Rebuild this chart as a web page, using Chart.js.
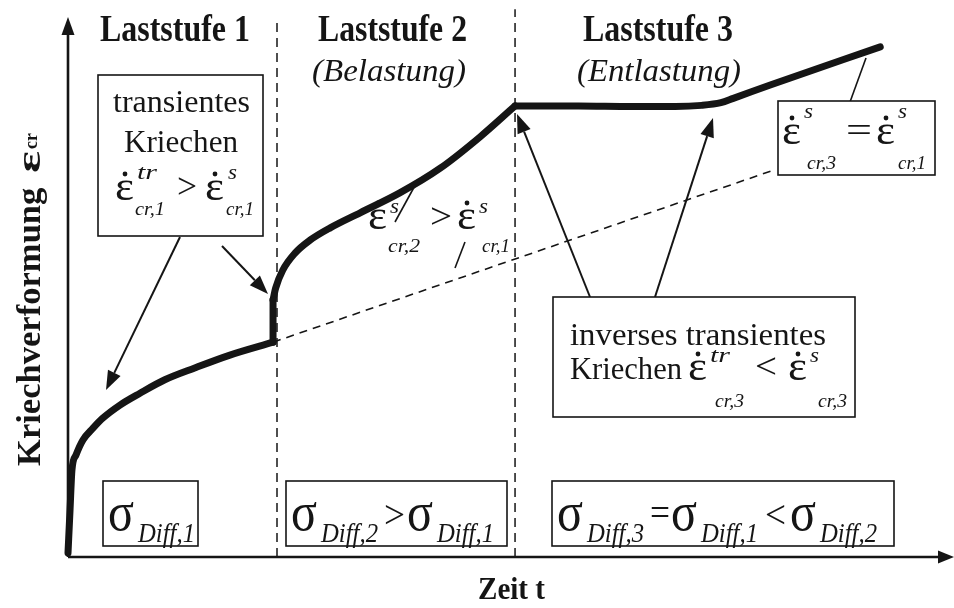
<!DOCTYPE html>
<html><head><meta charset="utf-8">
<script src="https://cdn.jsdelivr.net/npm/chart.js@4"></script>
<style>html,body{margin:0;padding:0;background:#fff}#wrap{width:954px;height:608px}</style>
</head><body><div id="wrap"><canvas id="c" width="954" height="608"></canvas></div>
<script>
// ---- Data: time t (% of axis length) and creep strain eps_cr (% of axis height) ----
const stage1T = [0, 0.23, 0.45, 0.91, 1.70, 2.84, 3.98, 5.91, 8.18, 11.0, 14.4, 18.4, 23.3];
const stage1E = [0.74, 8.75, 16.2, 19.0, 21.8, 24.0, 25.9, 28.3, 30.5, 33.0, 35.2, 37.6, 40.0];
const jumpT = [23.3, 23.3];
const jumpE = [40.0, 47.9];
const stage2T = [23.3, 23.6, 24.4, 25.8, 27.5, 29.8, 33.2, 37.7, 42.3, 46.8, 50.8];
const stage2E = [47.9, 50.1, 53.4, 56.6, 59.0, 61.3, 64.1, 67.8, 72.4, 78.2, 84.0];
const stage3T = [50.8, 58.0, 64.0, 69.0, 72.0, 74.2, 75.6, 79.8, 92.3];
const stage3E = [84.0, 84.0, 83.9, 83.9, 84.1, 84.6, 85.4, 87.9, 95.0];
const steadyT = [23.3, 80.3];
const steadyE = [40.0, 72.1];
const stageBounds = [23.75, 50.8];
const stageBoundTops = [100, 102];
const stageTitles = ['Laststufe 1', 'Laststufe 2', 'Laststufe 3'];
const stageSubtitles = ['', '(Belastung)', '(Entlastung)'];
const xTitle = 'Zeit t';
const yTitle = 'Kriechverformung ε';
const ySubTitle = 'cr';

const pts = (T, E) => T.map((t, i) => ({x: t, y: E[i]}));
const INK = '#151515';
const SERIF = '"Liberation Serif", "DejaVu Serif", serif';
const curve = {borderColor: INK, borderWidth: 7, pointRadius: 0, showLine: true, fill: false,
  borderCapStyle: 'round', borderJoinStyle: 'round', clip: false};

const datasets = [
  {...curve, data: pts(stage1T, stage1E), cubicInterpolationMode: 'monotone'},
  {...curve, data: pts(jumpT, jumpE), tension: 0},
  {...curve, data: pts(stage2T, stage2E), cubicInterpolationMode: 'monotone'},
  {...curve, data: pts(stage3T, stage3E), cubicInterpolationMode: 'monotone'},
  {data: pts(steadyT, steadyE), borderColor: INK, borderWidth: 1.6, borderDash: [8, 6],
   pointRadius: 0, showLine: true, clip: false},
];
stageBounds.forEach((b, i) => datasets.push({data: [{x: b, y: 0}, {x: b, y: stageBoundTops[i]}],
  borderColor: INK, borderWidth: 1.5, borderDash: [9, 6], pointRadius: 0, showLine: true, clip: false}));

function fit(ctx, text, x, y, font, w) {
  ctx.font = font;
  const m = ctx.measureText(text).width;
  ctx.save(); ctx.translate(x, y); ctx.scale(w / m, 1);
  ctx.textAlign = 'left'; ctx.textBaseline = 'alphabetic';
  ctx.fillText(text, 0, 0); ctx.restore();
}
function eps(ctx, x, b, sup, sub, o) {
  o = Object.assign({supW: sup.length * 9.5, subW: 29, subDx: 20, subDy: 15, supDx: 22, supDy: -21}, o || {});
  fit(ctx, 'ε', x, b, '42px ' + SERIF, 19);
  ctx.beginPath(); ctx.arc(x + 10, b - 26, 2.4, 0, Math.PI * 2); ctx.fill();
  fit(ctx, sup, x + o.supDx, b + o.supDy, 'italic 20px ' + SERIF, o.supW);
  fit(ctx, sub, x + o.subDx, b + o.subDy, 'italic 18px ' + SERIF, o.subW);
}
function sigma(ctx, x, b, sub) {
  fit(ctx, 'σ', x, b, '54px ' + SERIF, 26);
  fit(ctx, sub, x + 30, b + 12, 'italic 27px ' + SERIF, 57);
}
function box(ctx, x1, y1, x2, y2) {
  ctx.fillStyle = '#fff'; ctx.fillRect(x1, y1, x2 - x1, y2 - y1);
  ctx.strokeStyle = INK; ctx.lineWidth = 1.6; ctx.strokeRect(x1, y1, x2 - x1, y2 - y1);
  ctx.fillStyle = INK;
}
function arrow(ctx, x1, y1, x2, y2, head) {
  const a = Math.atan2(y2 - y1, x2 - x1), L = head ? 19 : 0, W = 7;
  ctx.beginPath(); ctx.moveTo(x1, y1);
  ctx.lineTo(x2 - L * Math.cos(a), y2 - L * Math.sin(a)); ctx.stroke();
  if (!head) return;
  ctx.beginPath(); ctx.moveTo(x2, y2);
  ctx.lineTo(x2 - L * Math.cos(a) + W * Math.sin(a), y2 - L * Math.sin(a) - W * Math.cos(a));
  ctx.lineTo(x2 - L * Math.cos(a) - W * Math.sin(a), y2 - L * Math.sin(a) + W * Math.cos(a));
  ctx.closePath(); ctx.fill();
}

const annot = {
  id: 'annot',
  afterDatasetsDraw(chart) {
    const ctx = chart.ctx, xs = chart.scales.x, ys = chart.scales.y;
    const X = v => xs.getPixelForValue(v), Y = v => ys.getPixelForValue(v);
    ctx.save();
    ctx.fillStyle = INK; ctx.strokeStyle = INK;
    // axes
    const x0 = X(0), y0 = Y(0);
    ctx.lineWidth = 2.6;
    ctx.beginPath(); ctx.moveTo(x0, y0); ctx.lineTo(X(100) - 6, y0); ctx.stroke();
    ctx.beginPath(); ctx.moveTo(x0, y0); ctx.lineTo(x0, Y(100) + 8); ctx.stroke();
    ctx.beginPath(); ctx.moveTo(X(100) + 6, y0); ctx.lineTo(X(100) - 10, y0 - 6.5); ctx.lineTo(X(100) - 10, y0 + 6.5); ctx.closePath(); ctx.fill();
    ctx.beginPath(); ctx.moveTo(x0, Y(100) - 3); ctx.lineTo(x0 - 6.5, Y(100) + 15); ctx.lineTo(x0 + 6.5, Y(100) + 15); ctx.closePath(); ctx.fill();

    // stage titles
    const tW = [150, 149, 150], tX = [100, 318, 583];
    stageTitles.forEach((t, i) => fit(ctx, t, tX[i], 41, 'bold 37px ' + SERIF, tW[i]));
    const sX = [0, 312, 577], sW = [0, 154, 164];
    stageSubtitles.forEach((t, i) => { if (t) fit(ctx, t, sX[i], 81, 'italic 32px ' + SERIF, sW[i]); });

    // axis titles
    fit(ctx, xTitle, 478, 599, 'bold 32px ' + SERIF, 67);
    ctx.save(); ctx.translate(40, 466); ctx.rotate(-Math.PI / 2);
    fit(ctx, yTitle.slice(0, -1), 0, 0, 'bold 34px ' + SERIF, 287);
    fit(ctx, 'ε', 293, 0, 'bold 34px ' + SERIF, 22);
    fit(ctx, ySubTitle, 317, -3, 'bold 18px ' + SERIF, 16);
    ctx.restore();

    // box: transientes Kriechen
    ctx.lineWidth = 2;
    arrow(ctx, 180, 237, 106, 390, true);
    arrow(ctx, 222, 246, 268, 294, true);
    box(ctx, 98, 75, 263, 236);
    fit(ctx, 'transientes', 113, 112, '31px ' + SERIF, 137);
    fit(ctx, 'Kriechen', 124, 152, '31px ' + SERIF, 114);
    eps(ctx, 115, 200, 'tr', 'cr,1', {supW: 20, subW: 30});
    fit(ctx, '>', 177, 198, '36px ' + SERIF, 20);
    eps(ctx, 205, 200, 's', 'cr,1', {supW: 9, subW: 28, supDx: 23, subDx: 21});

    // middle label with pointer lines
    ctx.lineWidth = 1.6;
    arrow(ctx, 418, 180, 395, 222, false);
    arrow(ctx, 465, 242, 455, 268, false);
    eps(ctx, 368, 229, 's', 'cr,2', {supW: 9, subW: 32, subDy: 23, supDy: -16});
    fit(ctx, '>', 430, 228, '36px ' + SERIF, 22);
    eps(ctx, 457, 229, 's', 'cr,1', {supW: 9, subW: 28, subDy: 23, supDy: -16, subDx: 25});

    // box: steady-state equal
    ctx.lineWidth = 1.6;
    arrow(ctx, 866, 58, 850, 102, false);
    box(ctx, 778, 101, 935, 175);
    eps(ctx, 782, 144, 's', 'cr,3', {supW: 9, subW: 29, subDx: 25, subDy: 25, supDy: -26});
    fit(ctx, '=', 846, 142, '36px ' + SERIF, 26);
    eps(ctx, 876, 144, 's', 'cr,1', {supW: 9, subW: 28, subDx: 22, subDy: 25, supDy: -26});

    // box: inverses transientes Kriechen
    ctx.lineWidth = 2;
    arrow(ctx, 590, 297, X(stage2T[stage2T.length - 1]) + 2, Y(stage2E[stage2E.length - 1]) + 8, true);
    arrow(ctx, 655, 297, 713, 118, true);
    box(ctx, 553, 297, 855, 417);
    fit(ctx, 'inverses transientes', 570, 345, '31px ' + SERIF, 256);
    fit(ctx, 'Kriechen', 570, 379, '31px ' + SERIF, 112);
    eps(ctx, 688, 380, 'tr', 'cr,3', {supW: 20, subW: 29, subDx: 27, subDy: 27, supDy: -18});
    fit(ctx, '<', 755, 378, '36px ' + SERIF, 22);
    eps(ctx, 788, 380, 's', 'cr,3', {supW: 9, subW: 29, subDx: 30, subDy: 27, supDy: -18});

    // bottom stress boxes
    ctx.lineWidth = 1.6;
    box(ctx, 103, 481, 198, 546);
    sigma(ctx, 108, 530, 'Diff,1');
    box(ctx, 286, 481, 507, 546);
    sigma(ctx, 291, 530, 'Diff,2');
    fit(ctx, '>', 384, 528, '40px ' + SERIF, 21);
    sigma(ctx, 407, 530, 'Diff,1');
    box(ctx, 552, 481, 894, 546);
    sigma(ctx, 557, 530, 'Diff,3');
    fit(ctx, '=', 650, 526, '40px ' + SERIF, 20);
    sigma(ctx, 671, 530, 'Diff,1');
    fit(ctx, '<', 765, 528, '40px ' + SERIF, 21);
    sigma(ctx, 790, 530, 'Diff,2');
    ctx.restore();
  }
};

new Chart(document.getElementById('c'), {
  type: 'scatter',
  data: {datasets},
  options: {
    responsive: false, animation: false,
    layout: {padding: {left: 68, right: 6, top: 20, bottom: 51}},
    plugins: {legend: {display: false}, tooltip: {enabled: false}},
    scales: {
      x: {type: 'linear', min: 0, max: 100, display: false},
      y: {type: 'linear', min: 0, max: 100, display: false}
    }
  },
  plugins: [annot]
});
</script></body></html>
